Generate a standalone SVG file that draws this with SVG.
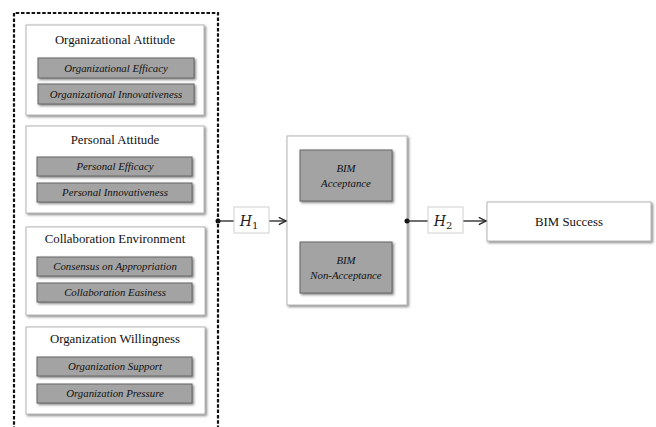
<svg xmlns="http://www.w3.org/2000/svg" width="656" height="427" viewBox="0 0 656 427">
<defs>
<filter id="sh" x="-10%" y="-10%" width="130%" height="140%">
<feDropShadow dx="1.5" dy="1.5" stdDeviation="0.8" flood-color="#555" flood-opacity="0.7"/>
</filter>
<marker id="arr" viewBox="0 0 10 10" refX="9" refY="5" markerWidth="9" markerHeight="9" markerUnits="userSpaceOnUse" orient="auto">
<path d="M1,1 L9,5 L1,9" fill="none" stroke="#222" stroke-width="1.5"/>
</marker>
</defs>
<style>
.outer{fill:#fff;stroke:#b5b5b5;stroke-width:1;filter:url(#sh)}
.sub{fill:#a3a3a3;stroke:#666;stroke-width:1;filter:url(#sh)}
.ttl{font-family:"Liberation Serif",serif;font-size:12.8px;fill:#111;text-anchor:middle}
.lbl{font-family:"Liberation Serif",serif;font-size:10.8px;font-style:italic;fill:#111;text-anchor:middle}
.hbox{fill:#fff;stroke:#d0d0d0;stroke-width:1}
.h{font-family:"DejaVu Serif","Liberation Serif",serif;font-size:14px;font-style:italic;fill:#222;text-anchor:middle}
.con{stroke:#222;stroke-width:1.3;fill:none}
</style>
<rect width="656" height="427" fill="#fff"/>
<path d="M14,430 V13 H218 V430" fill="none" stroke="#111" stroke-width="2.2" stroke-dasharray="3.5,1.8"/>

<g id="org-attitude">
<rect class="outer" x="26" y="25" width="178" height="90"/>
<text class="ttl" x="115" y="44">Organizational Attitude</text>
<rect class="sub" x="38" y="58" width="156" height="20"/>
<text class="lbl" x="116" y="72">Organizational Efficacy</text>
<rect class="sub" x="38" y="84" width="156" height="20"/>
<text class="lbl" x="116" y="98">Organizational Innovativeness</text>
</g>

<g id="personal-attitude">
<rect class="outer" x="26" y="126" width="178" height="87"/>
<text class="ttl" x="115" y="144">Personal Attitude</text>
<rect class="sub" x="37" y="157" width="155" height="19"/>
<text class="lbl" x="115" y="170">Personal Efficacy</text>
<rect class="sub" x="37" y="183" width="155" height="19"/>
<text class="lbl" x="115" y="196">Personal Innovativeness</text>
</g>

<g id="collab-env">
<rect class="outer" x="26" y="227" width="179" height="88"/>
<text class="ttl" x="115" y="243">Collaboration Environment</text>
<rect class="sub" x="37" y="257" width="155" height="19"/>
<text class="lbl" x="115" y="270">Consensus on Appropriation</text>
<rect class="sub" x="37" y="283" width="155" height="19"/>
<text class="lbl" x="115" y="296">Collaboration Easiness</text>
</g>

<g id="org-willingness">
<rect class="outer" x="26" y="327" width="179" height="87"/>
<text class="ttl" x="115" y="343">Organization Willingness</text>
<rect class="sub" x="37" y="357" width="155" height="19"/>
<text class="lbl" x="115" y="370">Organization Support</text>
<rect class="sub" x="37" y="384" width="155" height="19"/>
<text class="lbl" x="115" y="397">Organization Pressure</text>
</g>

<g id="bim-acceptance-group">
<rect class="outer" x="287" y="136" width="120" height="169"/>
<rect class="sub" x="300" y="150" width="92" height="51"/>
<text class="lbl" x="346" y="172">BIM</text>
<text class="lbl" x="346" y="187">Acceptance</text>
<rect class="sub" x="300" y="242" width="92" height="51"/>
<text class="lbl" x="346" y="264">BIM</text>
<text class="lbl" x="346" y="279">Non-Acceptance</text>
</g>

<g id="bim-success">
<rect class="outer" x="487" y="202" width="164" height="39"/>
<text class="ttl" x="569" y="226">BIM Success</text>
</g>

<g id="connectors">
<circle cx="218" cy="221" r="2.5" fill="#111"/>
<line class="con" x1="218" y1="221" x2="234" y2="221"/>
<line class="con" x1="269" y1="221" x2="286" y2="221" marker-end="url(#arr)"/>
<circle cx="407" cy="221" r="2.5" fill="#111"/>
<line class="con" x1="407" y1="221" x2="428" y2="221"/>
<line class="con" x1="463" y1="221" x2="486" y2="221" marker-end="url(#arr)"/>
</g>

<g id="h1">
<rect class="hbox" x="234" y="207" width="35" height="26"/>
<text class="h" x="249" y="226">H<tspan font-style="normal" font-size="10" dy="3">1</tspan></text>
</g>
<g id="h2">
<rect class="hbox" x="428" y="207" width="35" height="26"/>
<text class="h" x="443" y="226">H<tspan font-style="normal" font-size="10" dy="3">2</tspan></text>
</g>
</svg>
